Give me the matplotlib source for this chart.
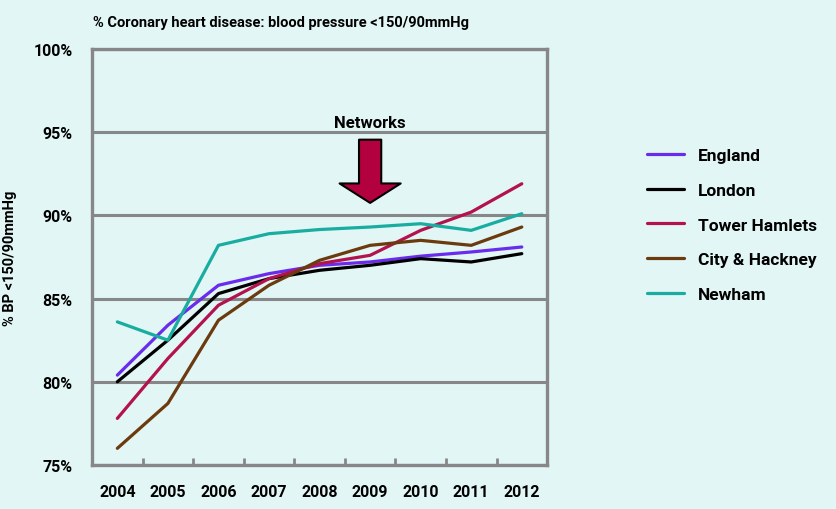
import matplotlib.pyplot as plt

years = ["2004", "2005", "2006", "2007", "2008", "2009", "2010", "2011", "2012"]
england = [80.4, 83.4, 85.8, 86.5, 87.0, 87.2, 87.55, 87.8, 88.1]
london = [80.0, 82.5, 85.3, 86.2, 86.7, 87.0, 87.4, 87.2, 87.7]
tower_hamlets = [77.8, 81.4, 84.6, 86.2, 87.1, 87.6, 89.1, 90.2, 91.9]
city_hackney = [76.0, 78.7, 83.7, 85.8, 87.3, 88.2, 88.5, 88.2, 89.3]
newham = [83.6, 82.5, 88.2, 88.9, 89.15, 89.3, 89.5, 89.1, 90.1]

series = [
    ("England", england, "#6a2cec"),
    ("London", london, "#000000"),
    ("Tower Hamlets", tower_hamlets, "#b3124e"),
    ("City & Hackney", city_hackney, "#6b3a0e"),
    ("Newham", newham, "#18ada0"),
]

bg = "#e1f6f5"
grey = "#878787"
plt.rcParams["font.family"] = ["Roboto", "DejaVu Sans"]
plt.rcParams["font.weight"] = "bold"

fig = plt.figure(figsize=(8.37, 5.10), dpi=100, facecolor=bg)
ax = fig.add_axes([0.110, 0.0863, 0.5436, 0.8157], facecolor=bg)

x = list(range(len(years)))
for name, vals, col in series:
    ax.plot(x, vals, color=col, lw=2.3, label=name, solid_capstyle="round")

ax.set_xlim(-0.5, len(years) - 0.5)
ax.set_ylim(75, 100)
ax.set_yticks([75, 80, 85, 90, 95, 100])
ax.set_yticklabels(["75%", "80%", "85%", "90%", "95%", "100%"])
ax.set_xticks(x)
ax.set_xticklabels(years)
ax.set_xticks([i + 0.5 for i in range(len(years) - 1)], minor=True)
ax.tick_params(axis="x", which="major", length=0, pad=14, labelsize=11.5)
ax.tick_params(axis="x", which="minor", length=5, width=2, color=grey, direction="in")
ax.tick_params(axis="y", length=0, pad=14, labelsize=11.5)
for lab in ax.get_xticklabels() + ax.get_yticklabels():
    lab.set_fontweight("bold")

ax.grid(axis="y", color=grey, lw=2.2)
ax.set_axisbelow(True)
for s in ax.spines.values():
    s.set_color(grey)
    s.set_linewidth(2.4)

ax.set_ylabel("% BP <150/90mmHg", fontsize=10.5, fontweight="bold", labelpad=12)
fig.text(0.111, 0.955, "% Coronary heart disease: blood pressure <150/90mmHg",
         fontsize=10.5, fontweight="bold", va="center", ha="left")

ax.annotate("", xy=(5, 90.75), xytext=(5, 94.55),
            arrowprops=dict(arrowstyle="simple,head_length=1.4,head_width=4.4,tail_width=1.6",
                            fc="#b3003f", ec="black", lw=1.5, mutation_scale=10,
                            shrinkA=0, shrinkB=0))
ax.text(5, 95.6, "Networks", ha="center", va="center", fontsize=12, fontweight="bold")

leg = ax.legend(loc="upper left", bbox_to_anchor=(1.186, 0.80), frameon=False,
                handlelength=2.1, handletextpad=0.8, labelspacing=1.13,
                prop={"size": 12.5, "weight": "bold"})

fig.savefig("out.png", dpi=100, facecolor=bg)
